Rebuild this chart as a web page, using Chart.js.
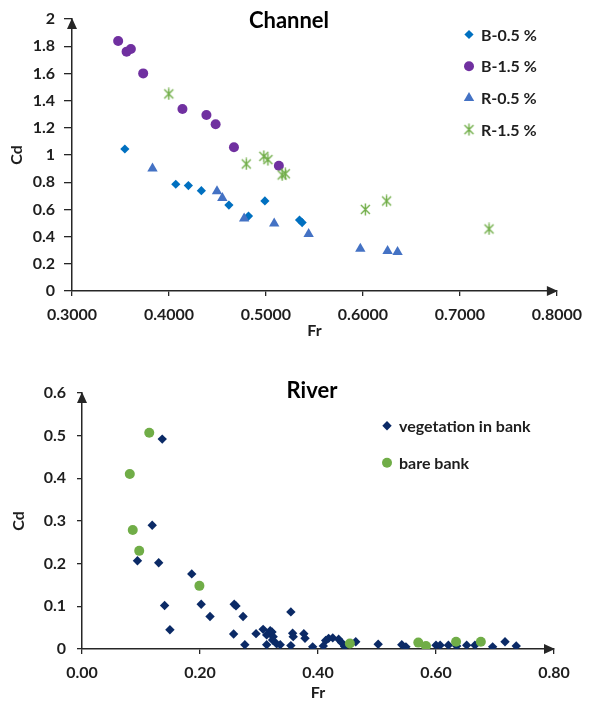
<!DOCTYPE html>
<html>
<head>
<meta charset="utf-8">
<title>Cd versus Fr</title>
<script src="https://cdn.jsdelivr.net/npm/chart.js@4.4.1/dist/chart.umd.min.js"></script>
<style>
  body { margin: 0; background: #fff; }
  canvas { position: absolute; left: 0; }
  #channelChart { top: 0; }
  #riverChart { top: 345px; }
</style>
</head>
<body>
<canvas id="channelChart" width="591" height="345"></canvas>
<canvas id="riverChart" width="591" height="357"></canvas>
<script>
// ---- Channel: Fr / Cd per run ----
const b05Fr = [0.3545, 0.407, 0.420, 0.4334, 0.4618, 0.482, 0.4989, 0.5346, 0.5373];
const b05Cd = [1.044, 0.785, 0.775, 0.738, 0.632, 0.551, 0.662, 0.522, 0.503];
const b15Fr = [0.3476, 0.3563, 0.3607, 0.3734, 0.4139, 0.4386, 0.4481, 0.467, 0.5133];
const b15Cd = [1.838, 1.760, 1.780, 1.600, 1.338, 1.294, 1.226, 1.057, 0.921];
const r05Fr = [0.383, 0.4495, 0.455, 0.4775, 0.5085, 0.544, 0.5973, 0.6254, 0.6357];
const r05Cd = [0.900, 0.733, 0.684, 0.534, 0.496, 0.419, 0.311, 0.295, 0.286];
const r15Fr = [0.3998, 0.4797, 0.4978, 0.502, 0.5167, 0.520, 0.6025, 0.6244, 0.730];
const r15Cd = [1.449, 0.934, 0.990, 0.966, 0.853, 0.862, 0.600, 0.662, 0.456];

const channelFrTicks = [0.3, 0.4, 0.5, 0.6, 0.7, 0.8];
const channelFrLabels = ['0.3000', '0.4000', '0.5000', '0.6000', '0.7000', '0.8000'];
const channelCdTicks = [0, 0.2, 0.4, 0.6, 0.8, 1, 1.2, 1.4, 1.6, 1.8, 2];
const channelCdLabels = ['0', '0.2', '0.4', '0.6', '0.8', '1', '1.2', '1.4', '1.6', '1.8', '2'];

// ---- River: Fr / Cd ----
const vegFr = [0.136, 0.119, 0.094, 0.130, 0.186, 0.140, 0.149, 0.202, 0.217, 0.258,
               0.261, 0.257, 0.273, 0.276, 0.295, 0.307, 0.319, 0.313, 0.322, 0.324,
               0.323, 0.313, 0.330, 0.336, 0.354, 0.357, 0.358, 0.354, 0.376, 0.378,
               0.391, 0.409, 0.413, 0.418, 0.425, 0.435, 0.440, 0.445, 0.464, 0.502,
               0.542, 0.549, 0.600, 0.607, 0.621, 0.635, 0.652, 0.666, 0.696, 0.717, 0.736];
const vegCd = [0.492, 0.290, 0.207, 0.202, 0.176, 0.102, 0.045, 0.105, 0.076, 0.105,
               0.101, 0.035, 0.076, 0.010, 0.036, 0.046, 0.043, 0.033, 0.040, 0.029,
               0.021, 0.010, 0.012, 0.010, 0.087, 0.037, 0.029, 0.008, 0.036, 0.025,
               0.005, 0.007, 0.020, 0.025, 0.026, 0.023, 0.015, 0.006, 0.017, 0.011,
               0.010, 0.005, 0.009, 0.009, 0.009, 0.007, 0.009, 0.009, 0.005, 0.017, 0.007];
const bareFr = [0.114, 0.081, 0.086, 0.097, 0.199, 0.454, 0.570, 0.583, 0.634, 0.676];
const bareCd = [0.507, 0.410, 0.279, 0.230, 0.148, 0.013, 0.015, 0.007, 0.017, 0.017];

const riverFrTicks = [0, 0.2, 0.4, 0.6, 0.8];
const riverFrLabels = ['0.00', '0.20', '0.40', '0.60', '0.80'];
const riverCdTicks = [0, 0.1, 0.2, 0.3, 0.4, 0.5, 0.6];
const riverCdLabels = ['0', '0.1', '0.2', '0.3', '0.4', '0.5', '0.6'];

const FONT = 'Lato, "Open Sans", sans-serif';
const INK = '#1e1e1e';
const AXIS = '#262626';

const toPoints = (xs, ys) => xs.map((x, i) => ({ x: x, y: ys[i] }));

// asterisk marker: an X with a vertical bar through it
function starMarker(color) {
    const c = document.createElement('canvas');
    c.width = 13; c.height = 13;
    const g = c.getContext('2d');
    g.strokeStyle = color;
    g.lineWidth = 1.4;
    g.beginPath();
    g.moveTo(2, 2); g.lineTo(11, 11);
    g.moveTo(11, 2); g.lineTo(2, 11);
    g.moveTo(6.5, 0.5); g.lineTo(6.5, 12.5);
    g.stroke();
    return c;
}

function series(label, xs, ys, style, color, radius, order) {
    return {
        label: label,
        data: toPoints(xs, ys),
        pointStyle: style,
        pointRadius: radius,
        pointBackgroundColor: color,
        pointBorderColor: color,
        pointBorderWidth: 0,
        order: order
    };
}

// arrow heads, title, axis titles and the in-plot legend
const chartDecor = {
    id: 'chartDecor',
    afterDraw(chart, args, opts) {
        const ctx = chart.ctx;
        const a = chart.chartArea;
        ctx.save();

        ctx.fillStyle = AXIS;
        ctx.beginPath();
        ctx.moveTo(a.left, a.top - 1);
        ctx.lineTo(a.left - 5, a.top + 10);
        ctx.lineTo(a.left + 5, a.top + 10);
        ctx.closePath();
        ctx.fill();
        ctx.beginPath();
        ctx.moveTo(a.right + 1, a.bottom);
        ctx.lineTo(a.right - 10, a.bottom - 5);
        ctx.lineTo(a.right - 10, a.bottom + 5);
        ctx.closePath();
        ctx.fill();

        ctx.fillStyle = '#000';
        ctx.textAlign = 'center';
        ctx.textBaseline = 'middle';
        ctx.font = `bold 22px ${FONT}`;
        ctx.fillText(opts.title, opts.titleX, opts.titleY);

        ctx.fillStyle = INK;
        ctx.font = `bold 16px ${FONT}`;
        ctx.fillText('Fr', (a.left + a.right) / 2, opts.xTitleY);
        ctx.save();
        ctx.translate(opts.yTitleX, (a.top + a.bottom) / 2);
        ctx.rotate(-Math.PI / 2);
        ctx.fillText('Cd', 0, 0);
        ctx.restore();

        ctx.textAlign = 'left';
        ctx.font = `bold 16px ${FONT}`;
        chart.data.datasets.forEach((ds, i) => {
            const y = opts.legendY + i * opts.legendGap;
            ctx.fillStyle = ds.pointBackgroundColor;
            ctx.strokeStyle = ds.pointBorderColor;
            Chart.helpers.drawPoint(ctx, {
                pointStyle: ds.pointStyle,
                radius: ds.pointRadius,
                borderWidth: 0,
                rotation: 0
            }, opts.legendX, y);
            ctx.fillStyle = INK;
            ctx.fillText(ds.label, opts.legendX + 12, y + 1);
        });
        ctx.restore();
    }
};

function axis(min, max, ticks, labels, tickLength, padding, size) {
    return {
        type: 'linear',
        min: min,
        max: max,
        afterBuildTicks: s => { s.ticks = ticks.map(v => ({ value: v })); },
        afterFit: s => { if (s.isHorizontal()) s.height = size; else s.width = size; },
        ticks: {
            callback: (v, i) => labels[i],
            autoSkip: false,
            maxRotation: 0,
            padding: padding,
            color: INK,
            font: { family: FONT, size: 16, weight: 'bold' }
        },
        grid: { drawOnChartArea: false, tickLength: tickLength, color: AXIS, lineWidth: 1.3 },
        border: { color: AXIS, width: 1.5 }
    };
}

function baseOptions(padding, xAxis, yAxis, decor) {
    return {
        responsive: false,
        animation: false,
        events: [],
        layout: { padding: padding },
        plugins: {
            legend: { display: false },
            title: { display: false },
            tooltip: { enabled: false },
            chartDecor: decor
        },
        scales: { x: xAxis, y: yAxis }
    };
}

new Chart(document.getElementById('channelChart'), {
    type: 'scatter',
    data: {
        datasets: [
            series('B-0.5 %', b05Fr, b05Cd, 'rectRot', '#0070C0', 4.6, 4),
            series('B-1.5 %', b15Fr, b15Cd, 'circle', '#7030A0', 5, 3),
            series('R-0.5 %', r05Fr, r05Cd, 'triangle', '#4472C4', 6, 2),
            series('R-1.5 %', r15Fr, r15Cd, starMarker('#70AD47'), '#70AD47', 6, 1)
        ]
    },
    options: baseOptions(
        { top: 19, right: 33, left: 0, bottom: 0 },
        axis(0.3, 0.8, channelFrTicks, channelFrLabels, 5, 9, 54),
        axis(0, 2, channelCdTicks, channelCdLabels, 8, 9, 72),
        { title: 'Channel', titleX: 289, titleY: 21, xTitleY: 331, yTitleX: 17,
          legendX: 469, legendY: 34.5, legendGap: 31.7 }
    ),
    plugins: [chartDecor]
});

new Chart(document.getElementById('riverChart'), {
    type: 'scatter',
    data: {
        datasets: [
            series('vegetation in bank', vegFr, vegCd, 'rectRot', '#0B2A66', 4.7, 2),
            series('bare bank', bareFr, bareCd, 'circle', '#70AD47', 5, 1)
        ]
    },
    options: baseOptions(
        { top: 48, right: 37, left: 0, bottom: 0 },
        axis(0, 0.8, riverFrTicks, riverFrLabels, 5, 9, 53),
        axis(0, 0.6, riverCdTicks, riverCdLabels, 5, 11, 82),
        { title: 'River', titleX: 312, titleY: 46, xTitleY: 348, yTitleX: 19,
          legendX: 387, legendY: 80.7, legendGap: 37 }
    ),
    plugins: [chartDecor]
});
</script>
</body>
</html>
